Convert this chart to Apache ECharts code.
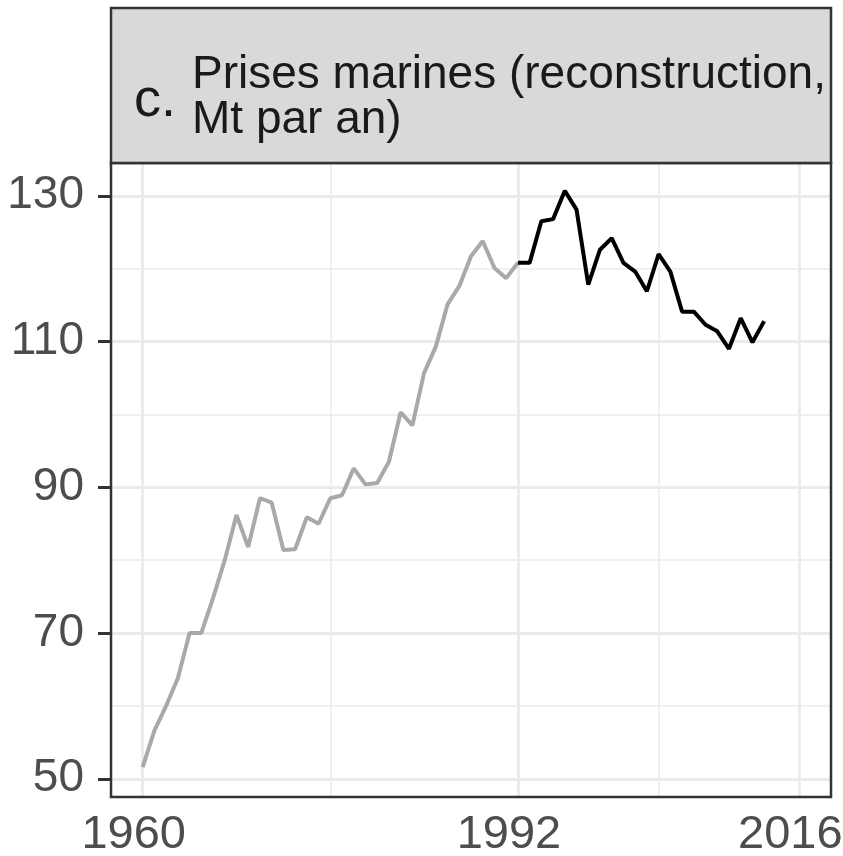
<!DOCTYPE html>
<html>
<head>
<meta charset="utf-8">
<script src="https://cdn.jsdelivr.net/npm/echarts@6/dist/echarts.min.js"></script>
<style>
html,body{margin:0;padding:0;background:#fff;}
#chart{width:843px;height:856px;}
</style>
</head>
<body>
<div id="chart"></div>
<script>
// ---- data ----
const years = [1960,1961,1962,1963,1964,1965,1966,1967,1968,1969,
  1970,1971,1972,1973,1974,1975,1976,1977,1978,1979,
  1980,1981,1982,1983,1984,1985,1986,1987,1988,1989,
  1990,1991,1992,1993,1994,1995,1996,1997,1998,1999,
  2000,2001,2002,2003,2004,2005,2006,2007,2008,2009,
  2010,2011,2012,2013];
const catchMt = [51.6,56.6,60.0,63.8,70.0,70.0,74.8,80.0,86.2,81.8,
  88.5,87.9,81.4,81.5,85.9,85.0,88.5,88.9,92.6,90.4,
  90.6,93.5,100.3,98.5,105.7,109.3,115.1,117.6,121.7,123.8,
  120.1,118.7,120.8,120.8,126.5,126.8,130.7,128.1,117.8,122.6,
  124.2,120.8,119.6,116.9,122.0,119.6,114.1,114.1,112.3,111.4,
  109.0,113.2,109.9,112.8];
const splitYear = 1992;
const xTicks = [1960, 1992, 2016];
const xMinor = [1976, 2004];
const yTicks = [50, 70, 90, 110, 130];
const yMinor = [60, 80, 100, 120];
const titleLabel = 'c.';
const titleLines = ['Prises marines (reconstruction,', 'Mt par an)'];

const FONT = '"Liberation Sans", Arial, sans-serif';
const pairs = years.map((y, i) => [y, catchMt[i]]);
const early = pairs.filter(p => p[0] <= splitYear);
const late = pairs.filter(p => p[0] >= splitYear);

const gridMarks = [];
xTicks.forEach(v => gridMarks.push({xAxis: v, lineStyle: {width: 2.8}}));
xMinor.forEach(v => gridMarks.push({xAxis: v, lineStyle: {width: 1.5}}));
yTicks.forEach(v => gridMarks.push({yAxis: v, lineStyle: {width: 2.8}}));
yMinor.forEach(v => gridMarks.push({yAxis: v, lineStyle: {width: 1.5}}));

const chart = echarts.init(document.getElementById('chart'), null, {renderer: 'canvas'});
chart.setOption({
  animation: false,
  backgroundColor: '#ffffff',
  grid: {left: 111, right: 12, top: 163, bottom: 59, show: true, containLabel: false,
    outerBoundsMode: 'none',
    borderColor: '#333333', borderWidth: 2.5, backgroundColor: 'transparent', z: 10},
  xAxis: {
    type: 'value', min: 1957.3, max: 2018.7,
    axisLine: {show: false},
    axisTick: {show: false, customValues: xTicks},
    splitLine: {show: false},
    axisLabel: {customValues: xTicks, fontSize: 47, fontFamily: FONT, color: '#4d4d4d',
      margin: 15, padding: [0, 18, 0, 0], formatter: v => String(v)}
  },
  yAxis: {
    type: 'value', min: 47.5, max: 134.5,
    axisLine: {show: false},
    axisTick: {show: true, customValues: yTicks, length: 13, inside: false,
      lineStyle: {color: '#333333', width: 3}},
    splitLine: {show: false},
    axisLabel: {customValues: yTicks, fontSize: 46, fontFamily: FONT, color: '#4d4d4d',
      margin: 27, formatter: v => String(v)}
  },
  graphic: [
    {type: 'rect', z: 20, shape: {x: 111, y: 8, width: 720, height: 155},
      style: {fill: '#d9d9d9', stroke: '#333333', lineWidth: 2.5}},
    {type: 'text', z: 21, x: 134, y: 101,
      style: {text: titleLabel, font: '54px ' + FONT, fill: '#1a1a1a', verticalAlign: 'middle', align: 'left'}},
    {type: 'text', z: 21, x: 192, y: 75,
      style: {text: titleLines[0], font: '46px ' + FONT, fill: '#1a1a1a', verticalAlign: 'middle', align: 'left'}},
    {type: 'text', z: 21, x: 192, y: 120,
      style: {text: titleLines[1], font: '46px ' + FONT, fill: '#1a1a1a', verticalAlign: 'middle', align: 'left'}}
  ],
  series: [
    {type: 'line', data: early, z: 3, symbol: 'none', silent: true,
      lineStyle: {color: '#a9a9a9', width: 4},
      markLine: {silent: true, symbol: 'none', z: 1, label: {show: false},
        lineStyle: {color: '#ebebeb', type: 'solid'}, data: gridMarks}},
    {type: 'line', data: late, z: 4, symbol: 'none', silent: true,
      lineStyle: {color: '#000000', width: 4}}
  ]
});
</script>
</body>
</html>
